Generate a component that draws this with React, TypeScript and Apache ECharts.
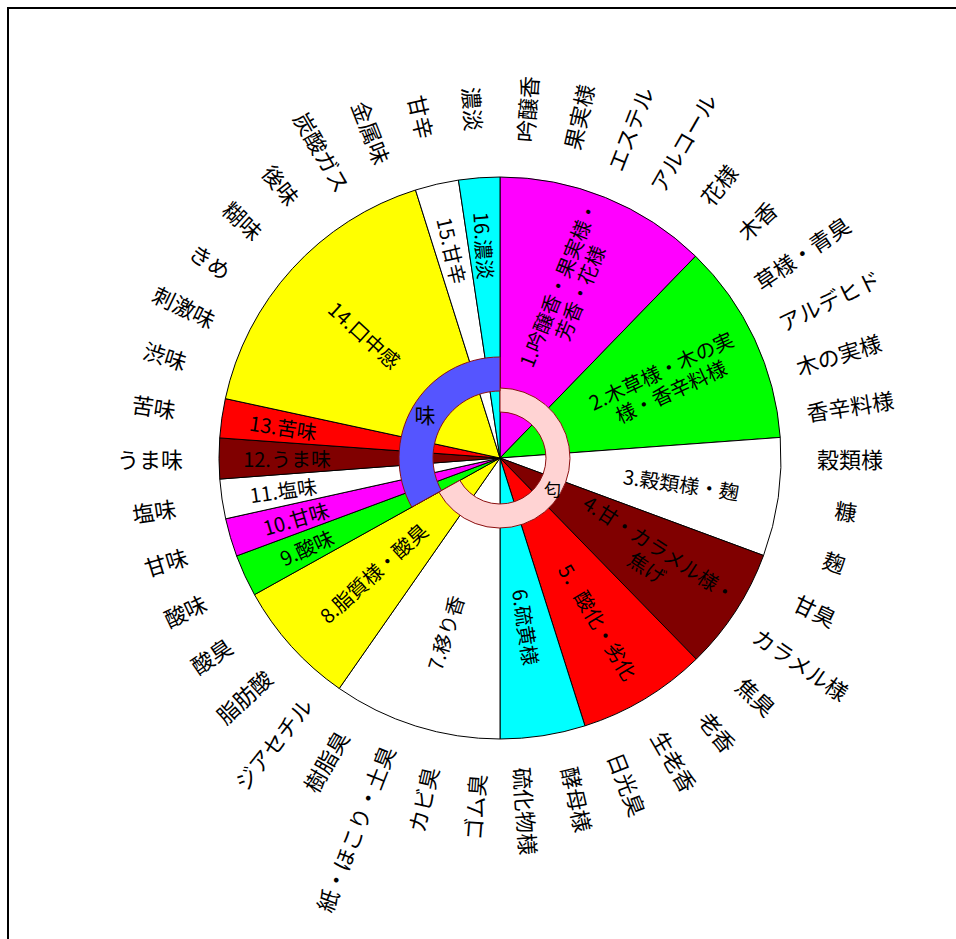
import React, { useEffect, useRef } from "react";
import * as echarts from "echarts";

// ---- data ----
const categories = [
  "1.吟醸香・果実様・\n芳香・花様",
  "2.木草様・木の実\n様・香辛料様",
  "3.穀類様・麹",
  "4.甘・カラメル様・\n焦げ",
  "5．酸化・劣化",
  "6.硫黄様",
  "7.移り香",
  "8.脂質様・酸臭",
  "9.酸味",
  "10.甘味",
  "11.塩味",
  "12.うま味",
  "13.苦味",
  "14.口中感",
  "15.甘辛",
  "16.濃淡",
];
const sliceValues = [44.1, 41.7, 24.5, 25.4, 26.7, 17.6, 34.9, 26.0, 8.7, 7.9, 8.2, 8.4, 8.1, 60.3, 9.0, 8.5];
const sliceColors = [
  "#FF00FF", "#00FF00", "#FFFFFF", "#800000", "#FF0000", "#00FFFF", "#FFFFFF", "#FFFF00",
  "#00FF00", "#FF00FF", "#FFFFFF", "#800000", "#FF0000", "#FFFF00", "#FFFFFF", "#00FFFF",
];
const groupNames = ["匂", "味"];
const groupValues = [240.9, 119.1];
const descriptors = [
  "吟醸香", "果実様", "エステル", "アルコール", "花様", "木香", "草様・青臭", "アルデヒド",
  "木の実様", "香辛料様", "穀類様", "糠", "麹", "甘臭", "カラメル様", "焦臭", "老香",
  "生老香", "日光臭", "酵母様", "硫化物様", "ゴム臭", "カビ臭", "紙・ほこり・土臭", "樹脂臭",
  "ジアセチル", "脂肪酸", "酸臭", "酸味", "甘味", "塩味", "うま味", "苦味", "渋味",
  "刺激味", "きめ", "糊味", "後味", "炭酸ガス", "金属味", "甘辛", "濃淡",
];

// ---- layout / style ----
const FONT = "'Noto Sans CJK JP', 'Noto Sans', sans-serif";
const CENTER = [500, 458];
const labelRadius = [180, 180, 180, 180, 188, 168, 180, 168, 210, 210, 216, 210, 216, 180, 210, 210];
const TRANSPARENT = "rgba(0,0,0,0)";

export default function App() {
  const ref = useRef<HTMLDivElement>(null);
  useEffect(() => {
    if (!ref.current) return;
    const chart = echarts.init(ref.current, undefined, { renderer: "svg" });

    const base = {
      type: "pie",
      center: CENTER,
      startAngle: 90,
      clockwise: true,
      silent: true,
      avoidLabelOverlap: false,
      emphasis: { disabled: true },
    };

    const series: any[] = [];
    series.push({
      ...base,
      name: "main",
      radius: [0, 281],
      label: { show: false },
      labelLine: { show: false },
      itemStyle: { borderColor: "#000", borderWidth: 1 },
      data: categories.map((c, i) => ({ name: c, value: sliceValues[i], itemStyle: { color: sliceColors[i] } })),
    });

    // inner ring: 匂
    series.push({
      ...base,
      name: "ring1",
      radius: [46, 70],
      labelLine: { show: false },
      label: { show: true, position: "inside", rotate: 0, fontSize: 17, color: "#000", fontFamily: FONT },
      data: [
        { name: groupNames[0], value: groupValues[0], itemStyle: { color: "#FFD3D3", borderColor: "#8B1010", borderWidth: 1 } },
        { name: groupNames[1], value: groupValues[1], itemStyle: { color: TRANSPARENT, borderWidth: 0 }, label: { show: false } },
      ],
    });
    // inner ring: 味
    series.push({
      ...base,
      name: "ring2",
      radius: [67, 101],
      labelLine: { show: false },
      label: { show: true, position: "inside", rotate: 0, fontSize: 21, color: "#000", fontFamily: FONT },
      data: [
        { name: groupNames[0], value: groupValues[0], itemStyle: { color: TRANSPARENT, borderWidth: 0 }, label: { show: false } },
        { name: groupNames[1], value: groupValues[1], itemStyle: { color: "#5555FF", borderColor: "#8B1010", borderWidth: 1 } },
      ],
    });

    // slice labels (transparent overlays at various label radii)
    const radii = Array.from(new Set(labelRadius));
    radii.forEach((m) => {
      series.push({
        ...base,
        name: "lbl" + m,
        radius: [m - 60, m + 60],
        labelLine: { show: false },
        itemStyle: { color: TRANSPARENT, borderWidth: 0 },
        label: {
          show: true,
          position: "inside",
          rotate: "radial",
          fontSize: 20,
          lineHeight: 23,
          color: "#000",
          fontFamily: FONT,
        },
        data: categories.map((c, i) => ({
          name: c,
          value: sliceValues[i],
          label: { show: labelRadius[i] === m },
        })),
      });
    });

    // outer descriptor labels
    series.push({
      ...base,
      name: "outer",
      radius: [0, 300],
      itemStyle: { color: TRANSPARENT, borderWidth: 0 },
      labelLine: { show: false, length: 10, length2: 0 },
      label: {
        show: true,
        position: "outside",
        rotate: "radial",
        fontSize: 22,
        color: "#000",
        fontFamily: FONT,
        distanceToLabelLine: 0,
      },
      data: descriptors.map((d) => {
        const p = Math.max(0, 40 - d.length * 11);
        return { name: d, value: 1, label: { padding: [0, p, 0, p] } };
      }),
    });

    chart.setOption({
      animation: false,
      backgroundColor: "#fff",
      series,
    });
    return () => chart.dispose();
  }, []);

  return (
    <div style={{ position: "absolute", left: 0, top: 0, width: 956, height: 939, overflow: "hidden", background: "#fff" }}>
      <div ref={ref} style={{ position: "absolute", left: 0, top: 0, width: 956, height: 939 }} />
      <div
        style={{
          position: "absolute",
          left: 7,
          top: 7,
          width: 960,
          height: 940,
          borderTop: "2px solid #000",
          borderLeft: "2px solid #000",
          pointerEvents: "none",
        }}
      />
    </div>
  );
}
